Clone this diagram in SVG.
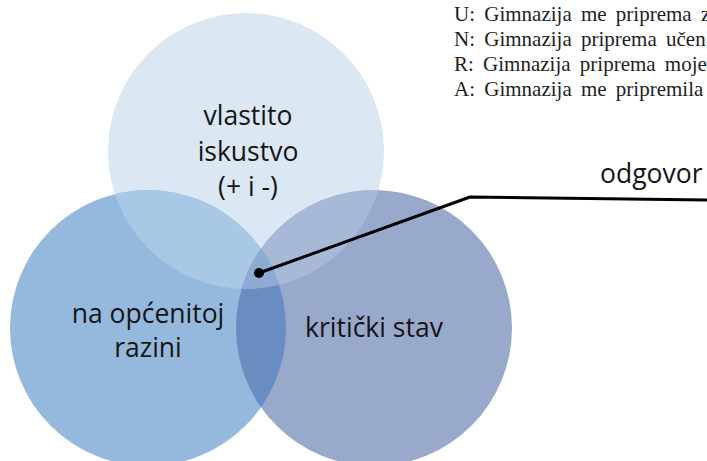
<svg xmlns="http://www.w3.org/2000/svg" width="707" height="461" viewBox="0 0 707 461">
<style>
.lbl{font-family:"Open Sans","Noto Sans",sans-serif;font-size:26.5px;fill:#151515;text-anchor:middle}
.ser{font-family:"Liberation Serif","Times New Roman",serif;font-size:21px;fill:#1e1e1e;word-spacing:4px}
.conn{fill:none;stroke:#000;stroke-width:3;stroke-linejoin:round}
</style>
<defs>
<clipPath id="cT"><circle cx="246" cy="151" r="138"/></clipPath>
<clipPath id="cL"><circle cx="148" cy="328" r="138"/></clipPath>
<clipPath id="cR"><circle cx="374" cy="328" r="138"/></clipPath>
</defs>
<rect width="707" height="461" fill="#fff"/>
<g id="text-block">
<text class="ser" x="454" y="21">U: Gimnazija me priprema z</text>
<text class="ser" x="454" y="46">N: Gimnazija priprema učen</text>
<text class="ser" x="454" y="71">R: Gimnazija priprema moje</text>
<text class="ser" x="454" y="96">A: Gimnazija me pripremila</text>
</g>
<g id="circle-top">
<circle cx="246" cy="151" r="138" fill="#dbe7f3"/>
</g>
<g id="circle-left">
<circle cx="148" cy="328" r="138" fill="#95b9dd"/>
</g>
<g id="circle-right">
<circle cx="374" cy="328" r="138" fill="#98a9cc"/>
</g>
<g id="overlaps">
<circle cx="246" cy="151" r="138" fill="#a9c8e6" clip-path="url(#cL)"/>
<circle cx="246" cy="151" r="138" fill="#a8b9d7" clip-path="url(#cR)"/>
<circle cx="148" cy="328" r="138" fill="#6a8dc1" clip-path="url(#cR)"/>
<g clip-path="url(#cR)"><circle cx="246" cy="151" r="138" fill="#8dabd3" clip-path="url(#cL)"/></g>
</g>
<g id="labels">
<text class="lbl" x="248" y="125">vlastito</text>
<text class="lbl" x="248" y="161">iskustvo</text>
<text class="lbl" x="248" y="196">(+ i -)</text>
<text class="lbl" x="148" y="323">na općenitoj</text>
<text class="lbl" x="148" y="357">razini</text>
<text class="lbl" x="374" y="337">kritički stav</text>
</g>
<g id="connectors">
<polyline class="conn" points="259,273 470,197 707,200"/>
<circle cx="259" cy="273" r="5" fill="#000"/>
</g>
<g id="odgovor">
<text class="lbl" x="600" y="183" style="text-anchor:start">odgovor</text>
</g>
</svg>
